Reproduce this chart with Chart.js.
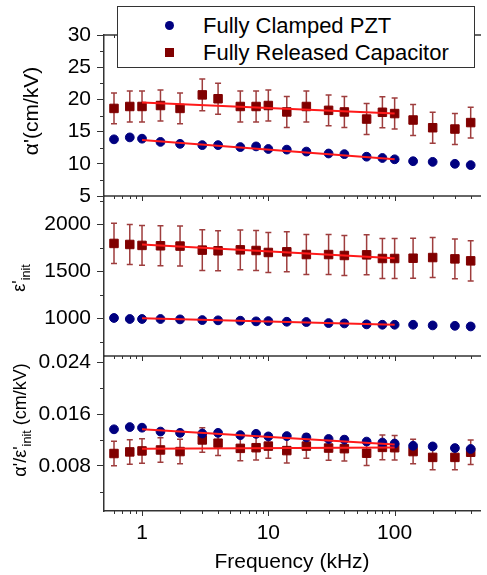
<!DOCTYPE html>
<html>
<head>
<meta charset="utf-8">
<script src="https://cdn.jsdelivr.net/npm/chart.js@4.4.0/dist/chart.umd.min.js"></script>
<style>
  body { margin: 0; background: #fff; }
  #wrap { position: relative; width: 487px; height: 575px; font-family: 'Liberation Sans', Arial, sans-serif; }
  canvas { position: absolute; left: 0; top: 0; }
  .ytitle { position: absolute; transform: translate(-50%, -50%) rotate(-90deg); white-space: nowrap; color: #000; }
  .ytitle sub { font-size: 0.7em; }
  #legend { position: absolute; left: 117px; top: 6px; width: 356px; height: 60px; border: 1.5px solid #333; background: #fff; font-size: 22px; }
  #legend .row { position: absolute; left: 85px; height: 24px; line-height: 24px; }
  #legend .mk { position: absolute; left: -38px; top: 7px; width: 9px; height: 9px; }
</style>
</head>
<body>
<div id="wrap">
  <canvas id="c1" width="487" height="575"></canvas>
  <canvas id="c2" width="487" height="575"></canvas>
  <canvas id="c3" width="487" height="575"></canvas>

  <div class="ytitle" style="left:31px; top:111px; font-size:21px;">&alpha;'(cm/kV)</div>
  <div class="ytitle" style="left:21px; top:278px; font-size:18px;">&epsilon;'<sub>init</sub></div>
  <div class="ytitle" style="left:22px; top:420px; font-size:18px;">&alpha;'/&epsilon;'<sub>init</sub> (cm/kV)</div>

  <div id="legend">
    <div class="row" style="top:7px;"><span class="mk" style="background:#000080; border-radius:50%;"></span>Fully Clamped PZT</div>
    <div class="row" style="top:34px;"><span class="mk" style="background:#800000;"></span>Fully Released Capacitor</div>
  </div>
</div>

<script>
// frequencies (kHz)
var freq = [0.6, 0.8, 1, 1.4, 2, 3, 4, 6, 8, 10, 14, 20, 30, 40, 60, 80, 100, 140, 200, 300, 400];

// alpha' (cm/kV)
var alphaClamped  = [13.8, 14.1, 13.9, 13.4, 13.1, 12.9, 12.9, 12.6, 12.7, 12.3, 12.2, 11.9, 11.6, 11.5, 11.1, 10.9, 10.7, 10.4, 10.3, 10.0, 9.8];
var alphaReleased = [18.6, 18.9, 18.9, 19.05, 18.6, 20.7, 20.1, 18.9, 18.9, 19.05, 18.05, 18.9, 18.3, 18.05, 16.95, 18.0, 17.8, 16.8, 15.6, 15.4, 16.4];
var alphaReleasedErr = [2.4, 2.4, 2.4, 2.4, 2.4, 2.45, 2.4, 2.4, 2.4, 2.4, 2.4, 2.4, 2.4, 2.4, 2.4, 2.4, 2.4, 2.4, 2.4, 2.4, 2.4];

// eps'_init
var epsClamped  = [1004, 993, 993, 993, 989, 982, 979, 975, 968, 971, 964, 961, 950, 946, 936, 932, 932, 932, 925, 921, 914];
var epsReleased = [1796, 1785, 1775, 1771, 1768, 1725, 1718, 1728, 1721, 1700, 1707, 1678, 1678, 1668, 1675, 1636, 1636, 1639, 1646, 1632, 1611];
var epsReleasedErr = [214, 212, 212, 212, 212, 216, 212, 212, 212, 212, 212, 212, 212, 212, 212, 212, 212, 212, 212, 212, 214];

// alpha'/eps'_init (cm/kV)
var ratioClamped  = [0.01365, 0.0140, 0.0139, 0.0133, 0.0131, 0.0130, 0.0131, 0.01275, 0.01295, 0.01255, 0.0126, 0.0124, 0.01215, 0.01205, 0.01175, 0.0116, 0.01145, 0.0111, 0.0110, 0.01075, 0.0106];
var ratioReleased = [0.0099, 0.01015, 0.0103, 0.01045, 0.0102, 0.0120, 0.0115, 0.0107, 0.0108, 0.01105, 0.01035, 0.01105, 0.01075, 0.01065, 0.00995, 0.01085, 0.0108, 0.0102, 0.0093, 0.0093, 0.0101];
var ratioReleasedErr = [0.0019, 0.0019, 0.0019, 0.0019, 0.0019, 0.0019, 0.0019, 0.0019, 0.0019, 0.0019, 0.0019, 0.0019, 0.0019, 0.0019, 0.0019, 0.0019, 0.0019, 0.0019, 0.0019, 0.0019, 0.0019];

// linear fits (1 - 100 kHz)
var fitFreq = [1, 100];
var alphaFitClamped  = [13.7, 10.7];
var alphaFitReleased = [19.5, 17.8];
var epsFitClamped  = [1000, 932];
var epsFitReleased = [1785, 1639];
var ratioFitClamped  = [0.01365, 0.0113];
var ratioFitReleased = [0.01065, 0.01085];

// ticks
var freqTicks = [1, 10, 100];
var freqMinor = [0.6, 0.7, 0.8, 0.9, 2, 3, 4, 5, 6, 7, 8, 9, 20, 30, 40, 50, 60, 70, 80, 90, 200, 300, 400];
var alphaTicks = [5, 10, 15, 20, 25, 30];
var alphaMinor = [7.5, 12.5, 17.5, 22.5, 27.5];
var epsTicks = [1000, 1500, 2000];
var epsMinor = [750, 1250, 1750, 2250];
var ratioTicks = [0.008, 0.016, 0.024];
var ratioMinor = [0.004, 0.012, 0.020];

var blue = '#000080';
var maroon = '#800000';
var errColor = '#9e3d3d';
var axisColor = '#333';
var fontFam = "'Liberation Sans', Arial, sans-serif";

function pts(xs, ys) {
  return xs.map(function (x, i) { return {x: x, y: ys[i]}; });
}

// error bars, minor ticks, panel top line
var panelMarks = {
  id: 'panelMarks',
  beforeDatasetsDraw: function (chart) {
    var ctx = chart.ctx, xs = chart.scales.x, ys = chart.scales.y;
    chart.data.datasets.forEach(function (ds) {
      if (!ds.errors) return;
      ctx.save();
      ctx.strokeStyle = errColor;
      ctx.lineWidth = 1.5;
      ds.data.forEach(function (p, j) {
        var px = xs.getPixelForValue(p.x);
        var t = ys.getPixelForValue(p.y + ds.errors[j]);
        var b = ys.getPixelForValue(p.y - ds.errors[j]);
        ctx.beginPath();
        ctx.moveTo(px, t); ctx.lineTo(px, b);
        ctx.moveTo(px - 3, t); ctx.lineTo(px + 3, t);
        ctx.moveTo(px - 3, b); ctx.lineTo(px + 3, b);
        ctx.stroke();
      });
      ctx.restore();
    });
  },
  afterDraw: function (chart, args, opts) {
    var ctx = chart.ctx, a = chart.chartArea, xs = chart.scales.x, ys = chart.scales.y;
    ctx.save();
    ctx.strokeStyle = axisColor;
    ctx.lineWidth = 1.5;
    ctx.beginPath();
    ctx.moveTo(a.left, a.top); ctx.lineTo(a.right + 1, a.top);
    ctx.stroke();

    ctx.lineWidth = 1;
    ctx.beginPath();
    // inward ticks on the top edge
    freqTicks.forEach(function (v) {
      var px = Math.round(xs.getPixelForValue(v)) + 0.5;
      ctx.moveTo(px, a.top); ctx.lineTo(px, a.top + 5);
      if (opts.bottom) { ctx.moveTo(px, a.bottom); ctx.lineTo(px, a.bottom + 5); }
    });
    freqMinor.forEach(function (v) {
      var px = Math.round(xs.getPixelForValue(v)) + 0.5;
      ctx.moveTo(px, a.top); ctx.lineTo(px, a.top + 3);
      if (opts.bottom) { ctx.moveTo(px, a.bottom); ctx.lineTo(px, a.bottom + 3); }
    });
    // minor y ticks
    (opts.minorY || []).forEach(function (v) {
      var py = Math.round(ys.getPixelForValue(v)) + 0.5;
      ctx.moveTo(a.left, py); ctx.lineTo(a.left - 4, py);
    });
    ctx.stroke();
    ctx.restore();
  }
};

function makeChart(id, datasets, yMin, yMax, yTicks, yMinor, yFmt, padTop, padBottom, showX) {
  return new Chart(document.getElementById(id), {
    type: 'scatter',
    data: { datasets: datasets },
    plugins: [panelMarks],
    options: {
      responsive: false,
      animation: false,
      layout: { padding: { left: 0, right: 1, top: padTop, bottom: padBottom } },
      plugins: {
        legend: { display: false },
        tooltip: { enabled: false },
        panelMarks: { minorY: yMinor, bottom: showX }
      },
      scales: {
        x: {
          type: 'logarithmic',
          display: showX,
          min: 0.5,
          max: 474,
          afterBuildTicks: function (s) { s.ticks = freqTicks.map(function (v) { return {value: v}; }); },
          grid: { display: false, drawTicks: true, tickLength: 6 },
          border: { display: true, color: axisColor, width: 1.5 },
          ticks: {
            color: '#000', padding: 6, maxRotation: 0, autoSkip: false,
            font: { family: fontFam, size: 21, lineHeight: 1 },
            callback: function (v) { return String(v); }
          },
          title: {
            display: true, text: 'Frequency (kHz)', color: '#000',
            font: { family: fontFam, size: 21, lineHeight: 1 },
            padding: { top: 2, bottom: 2 }
          }
        },
        y: {
          type: 'linear',
          min: yMin,
          max: yMax,
          afterBuildTicks: function (s) { s.ticks = yTicks.map(function (v) { return {value: v}; }); },
          afterFit: function (s) { s.width = 104; },
          grid: { drawOnChartArea: false, drawTicks: true, tickLength: 7, color: axisColor, lineWidth: 1 },
          border: { display: true, color: axisColor, width: 1.5 },
          ticks: {
            color: '#000', padding: 6,
            font: { family: fontFam, size: 21, lineHeight: 1 },
            callback: yFmt
          }
        }
      }
    }
  });
}

function panelSets(clamped, released, relErr, fitC, fitR) {
  return [
    { data: pts(fitFreq, fitC), showLine: true, borderColor: '#ff1a1a', borderWidth: 2, pointRadius: 0, order: 0 },
    { data: pts(fitFreq, fitR), showLine: true, borderColor: '#ff1a1a', borderWidth: 2, pointRadius: 0, order: 0 },
    { label: 'Fully Clamped PZT', data: pts(freq, clamped), pointStyle: 'circle', pointRadius: 4.4,
      backgroundColor: blue, borderColor: blue, borderWidth: 1, order: 1 },
    { label: 'Fully Released Capacitor', data: pts(freq, released), errors: relErr, pointStyle: 'rect', pointRadius: 6,
      backgroundColor: maroon, borderColor: maroon, borderWidth: 1, order: 1 }
  ];
}

makeChart('c1', panelSets(alphaClamped, alphaReleased, alphaReleasedErr, alphaFitClamped, alphaFitReleased),
  5, 30, alphaTicks, alphaMinor, function (v) { return String(v); }, 35, 379, false);

makeChart('c2', panelSets(epsClamped, epsReleased, epsReleasedErr, epsFitClamped, epsFitReleased),
  600, 2300, epsTicks, epsMinor, function (v) { return String(v); }, 196, 219, false);

makeChart('c3', panelSets(ratioClamped, ratioReleased, ratioReleasedErr, ratioFitClamped, ratioFitReleased),
  0.001, 0.025, ratioTicks, ratioMinor, function (v) { return v.toFixed(3); }, 356, 0, true);
</script>
</body>
</html>
